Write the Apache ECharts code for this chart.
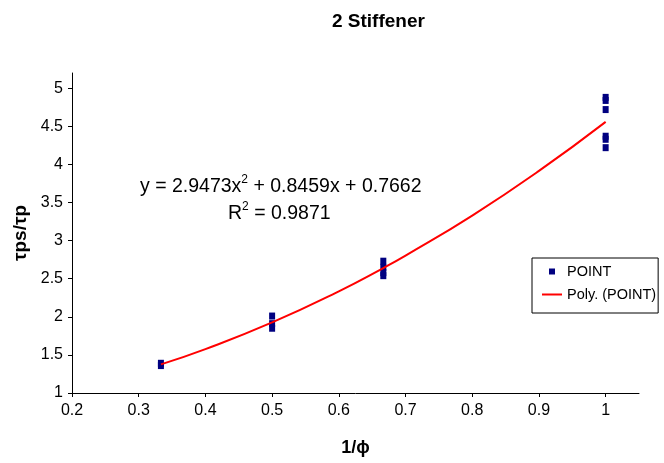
<!DOCTYPE html>
<html>
<head>
<meta charset="utf-8">
<script src="https://cdn.jsdelivr.net/npm/echarts@6/dist/echarts.min.js"></script>
<style>
  html, body { margin: 0; padding: 0; background: #fff; }
  #main { width: 664px; height: 463px; }
</style>
</head>
<body>
<div id="main"></div>
<script>
// measured points (x = 1/phi, y = tau_ps/tau_p)
const pointX = [0.3333, 0.3333, 0.5, 0.5, 0.5, 0.6667, 0.6667, 0.6667, 0.6667, 1, 1, 1, 1, 1, 1]
const pointY = [1.36, 1.39, 2.01, 1.91, 1.85, 2.73, 2.65, 2.58, 2.54, 4.88, 4.84, 4.72, 4.37, 4.33, 4.22]

// Excel polynomial trendline, values read at a few x
const trendX = [0.3333, 0.4, 0.5, 0.6, 0.6667, 0.7, 0.8, 0.9, 1]
const trendY = [1.376, 1.576, 1.926, 2.335, 2.640, 2.803, 3.329, 3.915, 4.559]

const font = 'Liberation Sans, Arial, sans-serif'

var myChart = echarts.init(document.getElementById('main'))

const eqRich = {
  t: { fontFamily: font, fontSize: 19.5, color: '#000', lineHeight: 23, verticalAlign: 'bottom' },
  s: { fontFamily: font, fontSize: 12, color: '#000', lineHeight: 23, verticalAlign: 'top' }
}

myChart.setOption({
  animation: false,
  title: {
    text: '2 Stiffener',
    left: 327,
    top: 7,
    textStyle: { fontFamily: font, fontSize: 19, fontWeight: 'bold', color: '#000' }
  },
  grid: { left: 72, right: 25, top: 73, bottom: 70 },
  legend: {
    orient: 'vertical',
    left: 532,
    top: 258,
    width: 128,
    padding: [6, 2, 11, 10],
    itemGap: 8,
    borderColor: '#000',
    borderWidth: 1,
    borderRadius: 0,
    textStyle: { fontFamily: font, fontSize: 14.5, color: '#000' },
    data: [
      { name: 'POINT', icon: 'path://M0,0 L1,0 L1,1 L0,1 Z', itemStyle: { color: '#000080' } },
      { name: 'Poly. (POINT)', icon: 'path://M0,0 L10,0 L10,1 L0,1 Z', itemStyle: { color: '#ff0000' } }
    ],
    itemWidth: 20,
    itemHeight: 6,
    itemStyle: { opacity: 1 }
  },
  xAxis: {
    type: 'value',
    min: 0.2,
    max: 1.05,
    interval: 0.1,
    name: '1/\u03d5',
    nameLocation: 'middle',
    nameGap: 46,
    nameTextStyle: { fontFamily: font, fontSize: 18, fontWeight: 'bold', color: '#000' },
    axisLine: { lineStyle: { color: '#000', width: 1 } },
    axisTick: { show: true, length: 4, lineStyle: { color: '#000' } },
    axisLabel: {
      showMaxLabel: false,
      margin: 10,
      fontFamily: font, fontSize: 16, color: '#000',
      formatter: v => +v.toFixed(1) + ''
    },
    splitLine: { show: false }
  },
  yAxis: {
    type: 'value',
    min: 1,
    max: 5.2,
    interval: 0.5,
    name: '\u03c4ps/\u03c4p',
    nameLocation: 'middle',
    nameGap: 42,
    nameTextStyle: { fontFamily: font, fontSize: 19, fontWeight: 'bold', color: '#000' },
    axisLine: { show: true, lineStyle: { color: '#000', width: 1 } },
    axisTick: { show: true, length: 4, lineStyle: { color: '#000' } },
    axisLabel: {
      showMaxLabel: false,
      margin: 9,
      fontFamily: font, fontSize: 16, color: '#000'
    },
    splitLine: { show: false }
  },
  graphic: [
    {
      type: 'text',
      left: 140,
      top: 174,
      style: { text: '{t|y = 2.9473x}{s|2}{t| + 0.8459x + 0.7662}', rich: eqRich }
    },
    {
      type: 'text',
      left: 228,
      top: 201,
      style: { text: '{t|R}{s|2}{t| = 0.9871}', rich: eqRich }
    }
  ],
  series: [
    {
      name: 'POINT',
      type: 'scatter',
      symbol: 'rect',
      symbolSize: [6, 7],
      itemStyle: { color: '#000080', opacity: 1 },
      data: pointX.map((x, i) => [x, pointY[i]]),
      z: 3
    },
    {
      name: 'Poly. (POINT)',
      type: 'line',
      smooth: true,
      showSymbol: false,
      lineStyle: { color: '#ff0000', width: 2 },
      itemStyle: { color: '#ff0000' },
      data: trendX.map((x, i) => [x, trendY[i]]),
      z: 4
    }
  ]
})
</script>
</body>
</html>
